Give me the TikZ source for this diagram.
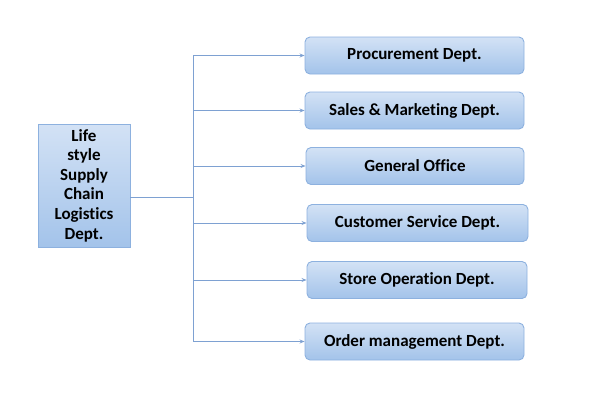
\documentclass[tikz,border=0pt]{standalone}
\usepackage{fontspec}
\setmainfont{Carlito}[Ligatures=NoCommon]
\usetikzlibrary{arrows.meta}
\definecolor{lineblue}{HTML}{7EA1D2}
\definecolor{boxedge}{HTML}{8DB1DF}
\definecolor{boxtop}{HTML}{D3E2F5}
\definecolor{boxbot}{HTML}{A3C3EA}
\tikzset{
  dept/.style={draw=boxedge, line width=0.9pt, rounded corners=5pt,
    top color=boxtop, bottom color=boxbot, minimum height=37pt,
    font=\fontsize{17}{20}\selectfont\bfseries, text=black, inner sep=0pt},
  mainbox/.style={draw=boxedge, line width=0.9pt, top color=boxtop, bottom color=boxbot,
    minimum width=92pt, minimum height=123pt, align=center,
    font=\fontsize{17}{19.6}\selectfont\bfseries, text=black, inner sep=0pt},
  link/.style={draw=lineblue, line width=0.9pt},
  arr/.style={link, -{Stealth[length=5pt,width=4pt]}}
}
\begin{document}
\begin{tikzpicture}[x=1pt,y=-1pt]
\useasboundingbox (0,0) rectangle (600,405);
\node[mainbox] (L) at (84,185.5) {Life\\style\\Supply\\Chain\\Logistics\\Dept.};
\node[dept, minimum width=219pt] (b1) at (414.5,55.5) {Procurement Dept.};
\node[dept, minimum width=219pt] (b2) at (414.5,110.5) {Sales \& Marketing Dept.};
\node[dept, minimum width=218pt] (b3) at (415,166) {General Office};
\node[dept, minimum width=221pt] (b4) at (417.5,223) {Customer Service Dept.};
\node[dept, minimum width=220pt] (b5) at (417,280) {Store Operation Dept.};
\node[dept, minimum width=219pt] (b6) at (414.5,341.5) {Order management Dept.};
\coordinate (j) at (193,197);
\foreach \i in {1,...,6} {
  \coordinate (t\i) at (b\i.west -| j);
}
\draw[link] (L.east |- j) -- (j);
\draw[link] (t1) -- (t6);
\foreach \i in {1,...,6} {
  \draw[arr] (t\i) -- (b\i.west);
}
\end{tikzpicture}
\end{document}
